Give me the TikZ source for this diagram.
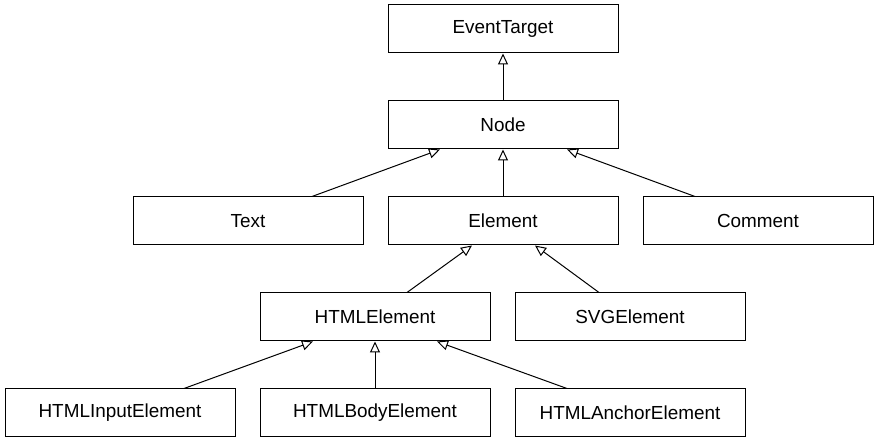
\documentclass[tikz,border=0pt]{standalone}
\usepackage{fontspec}
\setmainfont{Liberation Sans}
\usetikzlibrary{arrows.meta}
\begin{document}
\begin{tikzpicture}[x=1pt,y=-1pt,
  cls/.style={draw, line width=1pt, minimum width=230pt, minimum height=48pt, inner sep=0pt, font=\fontsize{18.9}{22}\selectfont},
  inh/.style={line width=1pt, -{Triangle[open, length=11pt, width=10pt, fill=white]}}]
\useasboundingbox (0,0) rectangle (879,443);
\node[cls] (et) at (503,29) {EventTarget};
\node[cls] (nd) at (503,125) {Node};
\node[cls] (tx) at (248,221) {Text};
\node[cls] (el) at (503,221) {Element};
\node[cls] (cm) at (758,221) {Comment};
\node[cls] (he) at (375,317) {HTMLElement};
\node[cls] (sv) at (630,317) {SVGElement};
\node[cls] (hi) at (120,413) {HTMLInputElement};
\node[cls] (hb) at (375,413) {HTMLBodyElement};
\node[cls] (ha) at (630,413) {HTMLAnchorElement};
\draw[inh] (nd.north) -- (et.south);
\draw[inh] ([xshift=64pt]tx.north) -- ([xshift=-63pt]nd.south);
\draw[inh] (el.north) -- (nd.south);
\draw[inh] ([xshift=-63pt]cm.north) -- ([xshift=64pt]nd.south);
\draw[inh] ([xshift=32pt]he.north) -- ([xshift=-31pt]el.south);
\draw[inh] ([xshift=-31pt]sv.north) -- ([xshift=32pt]el.south);
\draw[inh] ([xshift=64pt]hi.north) -- ([xshift=-62pt]he.south);
\draw[inh] (hb.north) -- (he.south);
\draw[inh] ([xshift=-63pt]ha.north) -- ([xshift=62pt]he.south);
\end{tikzpicture}
\end{document}
